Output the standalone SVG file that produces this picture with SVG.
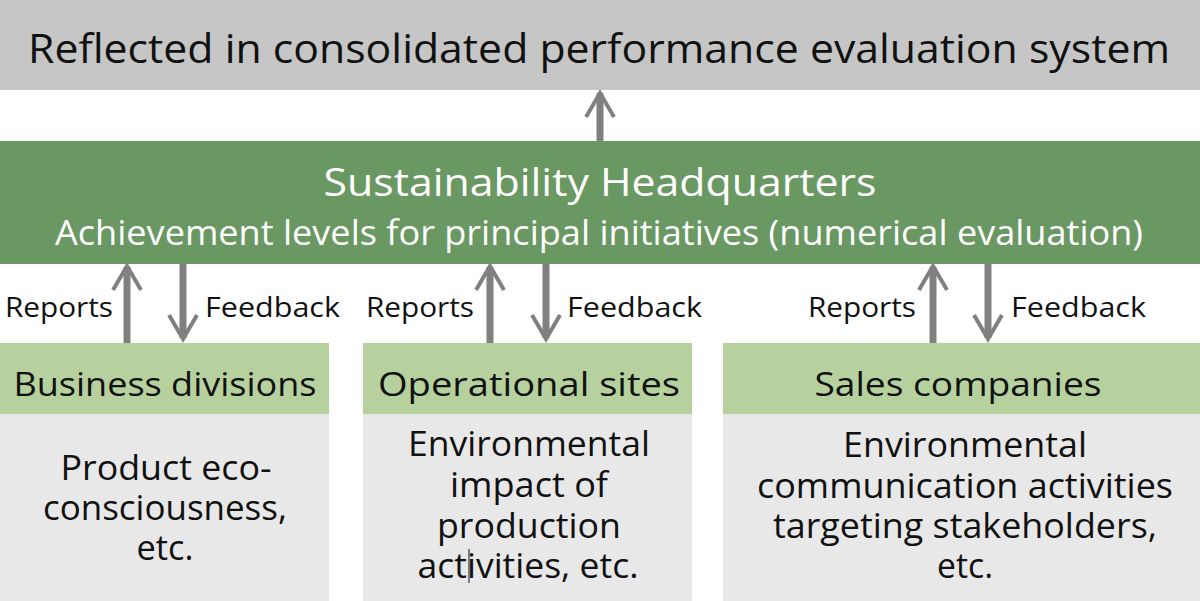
<svg xmlns="http://www.w3.org/2000/svg" width="1200" height="601" viewBox="0 0 1200 601">
<style>
text{font-family:"Open Sans","Noto Sans","DejaVu Sans",sans-serif;}
.dark{fill:#111111;}
.white{fill:#ffffff;}
.hdr{fill:#b6d19d;}
.body{fill:#e8e8e8;}
.conn{stroke:#808080;stroke-width:7;fill:none;}
.head{stroke:#808080;stroke-width:4;fill:none;stroke-linejoin:miter;}
.tb{font-size:35px;}
.th{font-size:33px;}
.t28{font-size:28px;}
</style>
<rect width="1200" height="601" fill="#ffffff"/>
<g id="system">
<rect x="0" y="0" width="1200" height="90" fill="#c5c6c5"/>
<text class="dark" x="599" y="63" font-size="41" text-anchor="middle" textLength="1142" lengthAdjust="spacingAndGlyphs">Reflected in consolidated performance evaluation system</text>
</g>
<g id="hq">
<rect x="0" y="141" width="1200" height="123" fill="#6a9863"/>
<text class="white" x="600" y="196" font-size="38" text-anchor="middle" textLength="553" lengthAdjust="spacingAndGlyphs">Sustainability Headquarters</text>
<text class="white" x="599" y="245" font-size="34" text-anchor="middle" textLength="1088" lengthAdjust="spacingAndGlyphs">Achievement levels for principal initiatives (numerical evaluation)</text>
</g>
<g id="business">
<rect class="hdr" x="0" y="343" width="329" height="71"/>
<rect class="body" x="0" y="414" width="329" height="187"/>
<text class="dark th" x="165" y="396" text-anchor="middle" textLength="303" lengthAdjust="spacingAndGlyphs">Business divisions</text>
<text class="dark tb" x="166" y="480" text-anchor="middle" textLength="211" lengthAdjust="spacingAndGlyphs">Product eco-</text>
<text class="dark tb" x="165" y="520" text-anchor="middle" textLength="244" lengthAdjust="spacingAndGlyphs">consciousness,</text>
<text class="dark tb" x="165" y="560" text-anchor="middle" textLength="57" lengthAdjust="spacingAndGlyphs">etc.</text>
</g>
<g id="sites">
<rect class="hdr" x="363" y="343" width="329" height="71"/>
<rect class="body" x="363" y="414" width="329" height="187"/>
<text class="dark th" x="529" y="396" text-anchor="middle" textLength="302" lengthAdjust="spacingAndGlyphs">Operational sites</text>
<text class="dark tb" x="529" y="456" text-anchor="middle" textLength="242" lengthAdjust="spacingAndGlyphs">Environmental</text>
<text class="dark tb" x="529" y="497" text-anchor="middle" textLength="158" lengthAdjust="spacingAndGlyphs">impact of</text>
<text class="dark tb" x="529" y="538" text-anchor="middle" textLength="184" lengthAdjust="spacingAndGlyphs">production</text>
<text class="dark tb" x="528" y="578" text-anchor="middle" textLength="221" lengthAdjust="spacingAndGlyphs">activities, etc.</text>
<line x1="469" y1="549" x2="469" y2="583" stroke="#111111" stroke-width="1"/>
</g>
<g id="sales">
<rect class="hdr" x="723" y="343" width="477" height="71"/>
<rect class="body" x="723" y="414" width="477" height="187"/>
<text class="dark th" x="958" y="396" text-anchor="middle" textLength="287" lengthAdjust="spacingAndGlyphs">Sales companies</text>
<text class="dark tb" x="965" y="457" text-anchor="middle" textLength="244" lengthAdjust="spacingAndGlyphs">Environmental</text>
<text class="dark tb" x="965" y="498" text-anchor="middle" textLength="416" lengthAdjust="spacingAndGlyphs">communication activities</text>
<text class="dark tb" x="965" y="538" text-anchor="middle" textLength="384" lengthAdjust="spacingAndGlyphs">targeting stakeholders,</text>
<text class="dark tb" x="965" y="578" text-anchor="middle" textLength="56" lengthAdjust="spacingAndGlyphs">etc.</text>
</g>
<g id="connectors">
<line class="conn" x1="600" y1="141" x2="600" y2="93"/>
<polyline class="head" points="586,117 600,93 614,117"/>
<line class="conn" x1="127" y1="343" x2="127" y2="267"/>
<polyline class="head" points="113,290 127,266 141,290"/>
<line class="conn" x1="183" y1="264" x2="183" y2="338"/>
<polyline class="head" points="169,315 183,339 197,315"/>
<line class="conn" x1="490" y1="343" x2="490" y2="267"/>
<polyline class="head" points="476,290 490,266 504,290"/>
<line class="conn" x1="546" y1="264" x2="546" y2="338"/>
<polyline class="head" points="532,315 546,339 560,315"/>
<line class="conn" x1="933" y1="343" x2="933" y2="267"/>
<polyline class="head" points="919,290 933,266 947,290"/>
<line class="conn" x1="988" y1="264" x2="988" y2="338"/>
<polyline class="head" points="974,315 988,339 1002,315"/>
</g>
<g id="labels">
<text class="dark t28" x="5" y="317" textLength="108" lengthAdjust="spacingAndGlyphs">Reports</text>
<text class="dark t28" x="205" y="317" textLength="135" lengthAdjust="spacingAndGlyphs">Feedback</text>
<text class="dark t28" x="366" y="317" textLength="108" lengthAdjust="spacingAndGlyphs">Reports</text>
<text class="dark t28" x="567" y="317" textLength="135" lengthAdjust="spacingAndGlyphs">Feedback</text>
<text class="dark t28" x="808" y="317" textLength="108" lengthAdjust="spacingAndGlyphs">Reports</text>
<text class="dark t28" x="1011" y="317" textLength="135" lengthAdjust="spacingAndGlyphs">Feedback</text>
</g>
</svg>
